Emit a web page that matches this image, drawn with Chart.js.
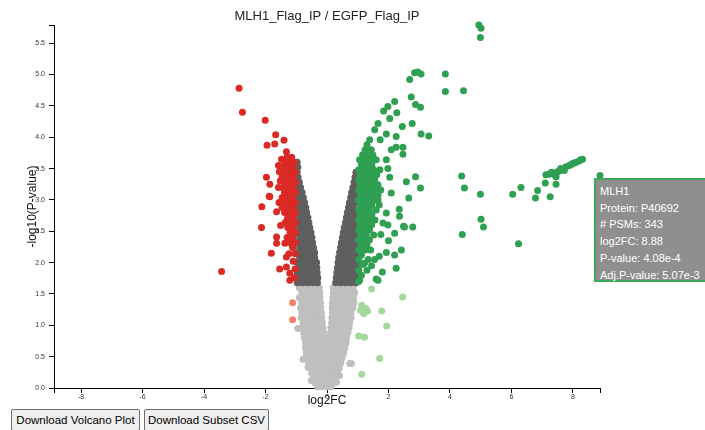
<!DOCTYPE html>
<html><head><meta charset="utf-8">
<script src="https://cdn.jsdelivr.net/npm/chart.js@4.4.0/dist/chart.umd.min.js"></script>
<style>
html,body{margin:0;padding:0;background:#fff;overflow:hidden;width:705px;height:430px;}
#wrap{position:relative;width:705px;height:430px;overflow:hidden;}
canvas{position:absolute;left:0;top:0;}
.btn{position:absolute;top:409px;height:22px;font:11.5px Arial,"Liberation Sans",sans-serif;color:#000;background:#efefef;border:1px solid #6e6e6e;border-radius:2px;padding:0;box-sizing:border-box;}
#tip{position:absolute;left:594px;top:178px;width:130px;height:104px;box-sizing:border-box;background:#8f8f8f;border:2px solid #3fa65e;color:#fff;font:11px Arial,"Liberation Sans",sans-serif;line-height:16.7px;padding:3px 0 0 4px;white-space:nowrap;}
</style></head>
<body><div id="wrap"><canvas id="c" width="705" height="410"></canvas>
<button class="btn" style="left:11px;width:129px">Download Volcano Plot</button>
<button class="btn" style="left:144px;width:125px">Download Subset CSV</button>
<div id="tip">MLH1<br>Protein: P40692<br># PSMs: 343<br>log2FC: 8.88<br>P-value: 4.08e-4<br>Adj.P-value: 5.07e-3</div>
</div>
<script>
const TITLE = 'MLH1_Flag_IP / EGFP_Flag_IP';
const X_LABEL = 'log2FC';
const Y_LABEL = '-log10(P-value)';
const X_LIMIT = 8.88;
const Y_MAX = 5.79;
const X_TICK_STEP = 2;
const Y_TICK_STEP = 0.5;

// significant up (log2FC > 1)
const greenPts = [[4.94,5.79],[5.01,5.74],[4.99,5.59],
[2.85,5.03],[3.06,5.01],[2.69,4.92],[2.95,5.04],[3.85,5.01],[3.85,4.73],[4.44,4.74],
[2.74,4.64],[2.88,4.52],[3.04,4.48],[2.20,4.57],[1.98,4.49],[2.27,4.39],[1.84,4.42],[2.04,4.30],[2.77,4.22],[1.66,4.22],
[2.45,4.17],[1.55,4.12],[3.06,4.05],[3.31,4.02],[2.25,4.01],[1.93,4.05],[1.73,3.96],[1.39,3.96],[2.47,3.84],[2.25,3.84],
[2.09,3.80],[2.47,3.73],[1.93,3.64],[1.28,3.77],[1.49,3.72],[1.98,3.50],[2.04,3.36],[2.88,3.37],[3.04,3.19],[2.09,3.11],
[2.66,3.03],[4.38,3.38],[4.47,3.19],[1.93,2.79],[1.82,2.63],[2.20,2.47],[2.49,2.58],[2.79,2.57],[1.93,2.16],[2.20,2.12],
[2.42,2.20],[2.25,1.91],[1.60,1.74],[1.06,1.72],[4.40,2.45],[1.66,3.00],[1.49,2.68],[1.98,2.60],[2.52,2.57],[1.22,1.99],
[1.66,1.72],[2.58,3.29],[2.35,2.85],[2.00,2.35],[1.75,2.45],[1.70,2.10],[1.55,2.05],[1.45,1.95],[1.80,1.85],[2.36,2.74],
[8.31,3.65],[8.20,3.62],[8.10,3.60],[7.99,3.58],[7.88,3.55],[7.77,3.53],[7.72,3.47],[7.50,3.45],[7.34,3.43],[7.23,3.41],
[7.12,3.40],[7.45,3.37],[7.10,3.27],[7.45,3.25],[6.31,3.20],[6.85,3.15],[6.04,3.09],[4.99,3.09],[6.78,3.03],[7.26,3.05],
[5.01,2.69],[5.09,2.57],[6.23,2.30],[8.25,3.64],[8.05,3.59],[7.93,3.56],[7.60,3.50],[7.55,3.46],[7.30,3.44],[7.40,3.40],
[8.88,3.389]];
const greenRows = [
[1.70,[1.03]],[1.80,[1.12]],[1.88,[1.03,1.30]],[1.97,[1.15]],[2.05,[1.03,1.34]],
[2.12,[1.12]],[2.20,[1.03,1.24,1.42]],[2.28,[1.12,1.30]],[2.36,[1.03,1.20,1.38]],[2.44,[1.10,1.28,1.52]],
[2.52,[1.03,1.20,1.38]],[2.60,[1.10,1.28,1.45]],[2.68,[1.03,1.20,1.37,1.56]],[2.76,[1.10,1.28,1.46]],
[2.84,[1.03,1.20,1.38,1.60]],[2.92,[1.10,1.28,1.46,1.70]],[3.00,[1.03,1.20,1.38,1.55]],[3.08,[1.10,1.28,1.46,1.66]],
[3.16,[1.03,1.20,1.38,1.57,1.75]],[3.24,[1.10,1.28,1.46,1.66]],[3.32,[1.03,1.20,1.38,1.55]],[3.40,[1.08,1.26,1.44,1.62]],
[3.48,[1.03,1.18,1.36,1.52,1.72]],[3.56,[1.12,1.30,1.46]],[3.64,[1.06,1.22,1.40,1.60]],[3.72,[1.16,1.34]],
[3.80,[1.24,1.44]],[3.88,[1.30]]];

// significant down (log2FC < -1)
const redPts = [[-2.86,4.78],[-2.75,4.40],[-2.01,4.27],[-1.67,4.04],[-1.40,3.95],[-1.95,3.87],[-1.70,3.89],[-1.32,3.77],
[-1.48,3.65],[-1.97,3.36],[-1.86,3.25],[-1.58,3.20],[-1.88,3.06],[-1.56,2.96],[-2.12,2.89],[-1.64,2.81],[-2.13,2.56],
[-1.51,2.59],[-1.27,2.67],[-1.81,2.15],[-1.64,2.31],[-1.54,1.90],[-1.21,1.72],[-1.32,2.09],[-1.32,1.93],[-1.21,1.83],
[-3.43,1.86],[-1.86,3.05],[-1.64,2.41],[-1.37,2.31],[-1.55,3.45],[-1.58,3.55],[-1.52,3.30]];
const redRows = [
[1.76,[-1.06]],[1.90,[-1.04]],[2.02,[-1.10]],
[2.14,[-1.04,-1.24]],[2.24,[-1.12]],[2.32,[-1.03,-1.22]],[2.40,[-1.12,-1.30]],
[2.48,[-1.03,-1.20]],[2.56,[-1.10,-1.28]],[2.64,[-1.03,-1.19,-1.36]],[2.72,[-1.10,-1.28]],[2.80,[-1.03,-1.19,-1.38]],
[2.88,[-1.10,-1.28,-1.46]],[2.96,[-1.03,-1.20,-1.36]],[3.04,[-1.12,-1.28,-1.46]],[3.12,[-1.03,-1.20,-1.38]],
[3.20,[-1.10,-1.28,-1.44]],[3.28,[-1.03,-1.20,-1.36]],[3.36,[-1.10,-1.28,-1.46]],[3.44,[-1.03,-1.20,-1.36]],
[3.52,[-1.12,-1.28,-1.44]],[3.60,[-1.06,-1.22,-1.38]],[3.68,[-1.15,-1.30]]];

// not significant but |log2FC| > 1
const lightRedPts = [[-1.12,1.36],[-1.12,1.09]];
const lightGreenPts = [[1.45,1.58],[2.46,1.45],[1.13,1.32],[1.26,1.27],[1.19,1.19],[1.32,1.23],[1.09,1.24],
[1.78,1.23],[1.94,0.99],[1.03,0.83],[1.22,0.81],[1.71,0.47],[1.13,0.22]];

// significant p, |log2FC| < 1
const darkGreyRows = [
[1.68,[-0.97,-0.80,-0.63,-0.46,-0.31, 0.28,0.44,0.61,0.78,0.95]],
[1.76,[-0.89,-0.72,-0.55,-0.38,-0.30, 0.30,0.36,0.53,0.70,0.87,0.98]],
[1.84,[-0.97,-0.80,-0.63,-0.46,-0.32, 0.32,0.44,0.61,0.78,0.95]],
[1.92,[-0.89,-0.72,-0.55,-0.40,-0.33, 0.34,0.50,0.67,0.84,0.98]],
[2.00,[-0.97,-0.80,-0.63,-0.47,-0.34, 0.36,0.44,0.61,0.78,0.95]],
[2.08,[-0.89,-0.72,-0.55,-0.40, 0.38,0.53,0.70,0.87,0.98]],
[2.16,[-0.97,-0.80,-0.63,-0.50,-0.40, 0.41,0.57,0.74,0.91]],
[2.24,[-0.89,-0.72,-0.56,-0.44, 0.44,0.51,0.66,0.82,0.98]],
[2.32,[-0.97,-0.80,-0.64,-0.47, 0.47,0.61,0.76,0.92]],
[2.40,[-0.89,-0.72,-0.58,-0.49, 0.50,0.57,0.70,0.85,0.98]],
[2.48,[-0.97,-0.80,-0.65,-0.52, 0.53,0.65,0.80,0.94]],
[2.56,[-0.89,-0.72,-0.56, 0.56,0.72,0.87,0.98]],
[2.64,[-0.97,-0.80,-0.65,-0.59, 0.60,0.76,0.91]],
[2.72,[-0.89,-0.74,-0.62, 0.63,0.80,0.96]],
[2.80,[-0.97,-0.81,-0.66, 0.66,0.83,0.97]],
[2.88,[-0.89,-0.75,-0.69, 0.70,0.86]],
[2.96,[-0.97,-0.84,-0.73, 0.73,0.88,0.98]],
[3.04,[-0.90,-0.77, 0.77,0.92]],
[3.12,[-0.97,-0.85,-0.81, 0.80,0.96]],
[3.20,[-0.91,-0.86, 0.84,0.97]],
[3.28,[-0.97,-0.90, 0.88]],
[3.36,[-0.94, 0.91]],
[3.44,[-0.97, 0.94]],
[3.52,[-0.95]],
[3.60,[-0.97]]];

// not significant
const lightGreyRows = [
[1.60,[-0.90,-0.73,-0.56,-0.40,-0.25, 0.20,0.36,0.53,0.70,0.86]],
[1.52,[-0.82,-0.65,-0.48,-0.32,-0.23, 0.20,0.28,0.45,0.62,0.78,0.90]],
[1.44,[-0.90,-0.73,-0.56,-0.40,-0.23, 0.19,0.36,0.53,0.70,0.86]],
[1.36,[-0.82,-0.65,-0.48,-0.32,-0.21, 0.18,0.28,0.45,0.62,0.78,0.88]],
[1.28,[-0.86,-0.73,-0.56,-0.40,-0.20, 0.17,0.36,0.53,0.70,0.84]],
[1.20,[-0.82,-0.65,-0.48,-0.32,-0.18, 0.17,0.28,0.45,0.62,0.78]],
[1.12,[-0.84,-0.70,-0.54,-0.38,-0.22,-0.17, 0.16,0.34,0.50,0.66,0.78]],
[1.04,[-0.78,-0.62,-0.46,-0.30,-0.15, 0.15,0.26,0.42,0.58,0.74]],
[0.96,[-0.80,-0.68,-0.52,-0.36,-0.20,-0.13, 0.13,0.34,0.50,0.66,0.72]],
[0.88,[-0.76,-0.60,-0.44,-0.28,-0.12, 0.11,0.26,0.42,0.58,0.68]],
[0.80,[-0.74,-0.66,-0.50,-0.34,-0.18,-0.04, 0.06,0.18,0.34,0.50,0.64]],
[0.72,[-0.70,-0.56,-0.40,-0.24,-0.08, 0.00,0.10,0.26,0.42,0.58,0.62]],
[0.64,[-0.70,-0.62,-0.46,-0.30,-0.14, 0.02,0.18,0.34,0.50,0.58]],
[0.56,[-0.67,-0.52,-0.36,-0.20,-0.04, 0.12,0.28,0.44,0.54]],
[0.48,[-0.64,-0.56,-0.42,-0.26,-0.10, 0.06,0.22,0.38,0.49]],
[0.40,[-0.60,-0.46,-0.30,-0.14, 0.02,0.18,0.34,0.45]],
[0.32,[-0.56,-0.40,-0.24,-0.08, 0.08,0.24,0.40]],
[0.24,[-0.50,-0.34,-0.18,-0.02, 0.14,0.30,0.34]],
[0.16,[-0.44,-0.28,-0.12, 0.04,0.20,0.28]],
[0.08,[-0.38,-0.22,-0.06, 0.10,0.20]],
[0.02,[-0.30,-0.14, 0.02,0.14]]];
const lightGreyPts = [[-0.95,0.95],[-0.66,0.49],[-0.50,0.33],[0.74,0.39],[0.31,0.09],[-0.40,0.09],[-0.63,0.65],
[-0.78,0.46],[-0.62,0.33],[0.79,0.39],[0.41,0.20],[-0.51,0.12]];

function pairs(list){ return list.map(([x,y]) => ({x, y})); }
function rows(list){ const out = []; list.forEach(([y, xs]) => xs.forEach(x => out.push({x, y}))); return out; }

const FONT = 'Arial, "Liberation Sans", Helvetica, sans-serif';
const ds = (label, data, color, order) => ({label, data, backgroundColor: color, borderWidth: 0, pointRadius: 3.5, pointHoverRadius: 3.5, clip: false, order});

new Chart(document.getElementById('c'), {
  type: 'scatter',
  data: { datasets: [
    ds('Up', pairs(greenPts).concat(rows(greenRows)), '#2f9f52', 0),
    ds('Down', pairs(redPts).concat(rows(redRows)), '#da2a25', 1),
    ds('Up (n.s.)', pairs(lightGreenPts), '#a2d99a', 2),
    ds('Down (n.s.)', pairs(lightRedPts), '#f2836a', 3),
    ds('Small FC', rows(darkGreyRows), '#5f5f5f', 4),
    ds('Not significant', rows(lightGreyRows).concat(pairs(lightGreyPts)), '#bfbfbf', 5)
  ]},
  options: {
    responsive: false, animation: false, devicePixelRatio: 1, events: [],
    layout: { padding: { left: 0, right: 105, top: 0, bottom: 0 } },
    plugins: { legend: { display: false }, tooltip: { enabled: false } },
    scales: {
      x: {
        type: 'linear', min: -X_LIMIT, max: X_LIMIT,
        afterFit: s => { s.height = 22; },
        afterBuildTicks: s => { s.ticks = [{value: s.min}].concat(s.ticks, [{value: s.max}]); },
        ticks: { stepSize: X_TICK_STEP, includeBounds: false, autoSkip: false, maxRotation: 0, minRotation: 0, padding: 0, color: '#333',
          font: { family: FONT, size: 7 }, callback: v => (Math.abs(v) === X_LIMIT ? '' : String(v)) },
        grid: { drawOnChartArea: false, drawTicks: true, tickLength: 5, color: '#000', lineWidth: 1 },
        border: { display: true, color: '#000', width: 1 },
        title: { display: true, text: X_LABEL, color: '#111', font: { family: FONT, size: 12 }, padding: { top: 0, bottom: 1.8 } }
      },
      xTitle: {
        type: 'linear', axis: 'x', position: 'top', min: -X_LIMIT, max: X_LIMIT,
        afterFit: s => { s.height = 25; },
        ticks: { display: false }, grid: { display: false, drawTicks: false }, border: { display: false },
        title: { display: true, text: TITLE, color: '#222', font: { family: FONT, size: 13 }, padding: { top: 9, bottom: 0 } }
      },
      y: {
        type: 'linear', min: 0, max: Y_MAX,
        afterFit: s => { s.width = 54; },
        afterBuildTicks: s => { s.ticks = s.ticks.concat([{value: s.max}]); },
        ticks: { stepSize: Y_TICK_STEP, includeBounds: false, autoSkip: false, padding: 4, color: '#333',
          font: { family: FONT, size: 7 }, callback: v => (v === Y_MAX ? '' : v.toFixed(1)) },
        grid: { drawOnChartArea: false, drawTicks: true, tickLength: 5, color: '#000', lineWidth: 1 },
        border: { display: true, color: '#000', width: 1 },
        title: { display: true, text: Y_LABEL, color: '#111', font: { family: FONT, size: 12 }, padding: { top: 25.3, bottom: 0 } }
      }
    }
  }
});
</script>
</body></html>
